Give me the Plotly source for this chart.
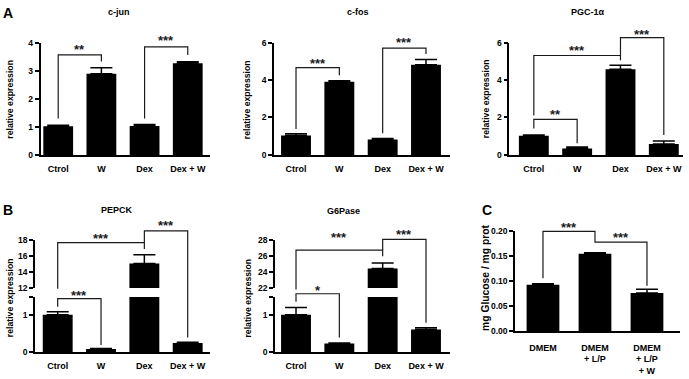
import plotly.graph_objects as go

# ---------------- data ----------------
cat_A = ["Ctrol", "W", "Dex", "Dex + W"]
cjun_mean = [1.02, 2.89, 1.03, 3.26]
cjun_sem = [0.04, 0.21, 0.05, 0.06]
cfos_mean = [1.04, 3.91, 0.83, 4.81]
cfos_sem = [0.09, 0.05, 0.05, 0.28]
pgc_mean = [1.03, 0.35, 4.57, 0.59]
pgc_sem = [0.03, 0.07, 0.22, 0.16]

cat_B = ["Ctrol", "W", "Dex", "Dex + W"]
pepck_mean = [1.02, 0.09, 15.1, 0.25]
pepck_sem = [0.08, 0.01, 1.1, 0.02]
g6p_mean = [1.02, 0.24, 24.45, 0.62]
g6p_sem = [0.20, 0.01, 0.70, 0.05]

cat_C = ["DMEM", "DMEM<br>+ L/P", "DMEM<br>+ L/P<br>+ W"]
glc_mean = [0.093, 0.155, 0.0765]
glc_sem = [0.002, 0.002, 0.0072]

# significance brackets: (group a, group b, bracket level, end a, end b, label, label level)
cjun_sig = [(0, 1, 3.56, 1.30, 3.33, "**", 3.86), (2, 3, 3.85, 1.30, 3.56, "***", 4.17)]
cfos_sig = [(0, 1, 4.66, 1.39, 4.26, "***", 5.04), (2, 3, 5.70, 1.16, 5.39, "***", 6.17)]
pgc_sig = [(0, 1, 1.90, 1.41, 0.63, "**", 2.31), (0, 2, 5.31, 2.10, 5.05, "***", 5.75),
           (2, 3, 6.27, 5.31, 1.06, "***", 6.58)]
pepck_sig = [(0, 2, 17.7, 11.9, 16.9, "***", 18.6), (0, 1, 1.46, 1.24, 0.20, "***", 1.61),
             (2, 3, 19.2, 17.7, 0.40, "***", 20.25)]
g6p_sig = [(0, 2, 26.77, 21.8, 26.0, "***", 28.7), (0, 1, 1.59, 1.37, 0.40, "*", 1.77),
           (2, 3, 28.12, 26.77, 0.80, "***", 29.1)]
glc_sig = [(0, 1, 0.1995, 0.1057, 0.188, "***", 0.214), (1, 2, 0.178, 0.188, 0.0909, "***", 0.193)]

# ---------------- layout geometry (pixels) ----------------
W, H = 689, 379
FONT = "Liberation Sans, Arial, Helvetica, sans-serif"


def px_x(p):
    return p / W


def px_y(p):
    return 1 - p / H


# each panel: x axis id, list of y segments (axis id, top px, bottom px, range, tickvals, ticktext)
panels = [
    dict(name="cjun", x=1, xdom=(40.5, 210), xr=(-0.41, 3.515), cats=cat_A, mean=cjun_mean, sem=cjun_sem,
         sig=cjun_sig, bw=0.69, so=5,
         segs=[dict(y=1, top=38.6, bot=154, r=(0, 4), tv=[0, 1, 2, 3, 4], tt=None)]),
    dict(name="cfos", x=2, xdom=(274, 450), xr=(-0.508, 3.554), cats=cat_A, mean=cfos_mean, sem=cfos_sem,
         sig=cfos_sig, bw=0.69, so=5,
         segs=[dict(y=2, top=38.6, bot=154, r=(0, 6), tv=[0, 2, 4, 6], tt=None)]),
    dict(name="pgc", x=3, xdom=(509.3, 682.7), xr=(-0.566, 3.436), cats=cat_A, mean=pgc_mean, sem=pgc_sem,
         sig=pgc_sig, bw=0.69, so=5,
         segs=[dict(y=3, top=38.6, bot=154, r=(0, 6), tv=[0, 2, 4, 6], tt=None)]),
    dict(name="pepck", x=4, xdom=(35, 210), xr=(-0.524, 3.515), cats=cat_B, mean=pepck_mean, sem=pepck_sem,
         sig=pepck_sig, bw=0.69, so=4,
         segs=[dict(y=4, top=300, bot=356.7, r=(0, 1.5), tv=[0, 1, 1.5], tt=["0", "1", ""]),
               dict(y=5, top=241.7, bot=290.7, r=(12, 18), tv=[12, 14, 16, 18], tt=None)]),
    dict(name="g6p", x=5, xdom=(275, 450), xr=(-0.485, 3.554), cats=cat_B, mean=g6p_mean, sem=g6p_sem,
         sig=g6p_sig, bw=0.69, so=4,
         segs=[dict(y=6, top=300, bot=356.7, r=(0, 1.5), tv=[0, 1, 1.5], tt=["0", "1", ""]),
               dict(y=7, top=241.7, bot=290.7, r=(22, 28), tv=[22, 24, 26, 28], tt=None)]),
    dict(name="glc", x=6, xdom=(515, 680), xr=(-0.538, 2.635), cats=cat_C, mean=glc_mean, sem=glc_sem,
         sig=glc_sig, bw=0.63, so=7,
         segs=[dict(y=8, top=232.3, bot=335, r=(0, 0.2), tv=[0, 0.05, 0.1, 0.15, 0.2],
                    tt=["0.00", "0.05", "0.10", "0.15", "0.20"])]),
]


def axname(letter, n):
    return f"{letter}axis" if n == 1 else f"{letter}axis{n}"


def tr(letter, n):
    return letter if n == 1 else f"{letter}{n}"


def seg_for(panel, v):
    segs = panel["segs"]
    if len(segs) == 1:
        return segs[0]
    return segs[1] if v > 6 else segs[0]


def val_py(panel, v):
    s = seg_for(panel, v)
    r0, r1 = s["r"]
    return s["bot"] - (v - r0) / (r1 - r0) * (s["bot"] - s["top"])


fig = go.Figure()
layout = dict(width=W, height=H, margin=dict(l=0, r=0, t=0, b=0), paper_bgcolor="white",
              plot_bgcolor="white", showlegend=False, font=dict(family=FONT, color="black"))
shapes = []
annotations = []

for p in panels:
    xn = p["x"]
    n = len(p["cats"])
    layout[axname("x", xn)] = dict(
        domain=[px_x(p["xdom"][0]), px_x(p["xdom"][1])], range=list(p["xr"]),
        anchor=tr("y", p["segs"][0]["y"]), showline=True, linecolor="black", linewidth=1.5,
        ticks="", tickvals=list(range(n)), ticktext=p["cats"], showgrid=False, zeroline=False,
        tickfont=dict(family=FONT, size=9, color="black", weight="bold"), fixedrange=True,
        ticklabelstandoff=p["so"])
    for s in p["segs"]:
        yd = dict(domain=[px_y(s["bot"]), px_y(s["top"])], range=list(s["r"]), anchor=tr("x", xn),
                  showline=True, linecolor="black", linewidth=1.5, ticks="outside", ticklen=4, tickwidth=1.5,
                  tickcolor="black", tickvals=s["tv"], showgrid=False, zeroline=False, fixedrange=True,
                  tickfont=dict(family=FONT, size=8.5, color="black", weight="bold"))
        if s["tt"] is not None:
            yd["ticktext"] = s["tt"]
        layout[axname("y", s["y"])] = yd
        fig.add_trace(go.Bar(
            x=list(range(n)), y=p["mean"], xaxis=tr("x", xn), yaxis=tr("y", s["y"]),
            width=p["bw"], marker=dict(color="black", line=dict(width=0)),
            error_y=dict(type="data", array=p["sem"], arrayminus=[0] * n, symmetric=False,
                         color="black", thickness=1.5, width=11),
            hoverinfo="skip"))
    # significance brackets
    for (a, b, lvl, ea, eb, lab, ly) in p["sig"]:
        ya = px_y(val_py(p, ea))
        yl = px_y(val_py(p, lvl))
        yb = px_y(val_py(p, eb))
        shapes.append(dict(type="path", xref=tr("x", xn), yref="paper",
                           path=f"M {a},{ya} L {a},{yl} L {b},{yl} L {b},{yb}",
                           line=dict(color="#1a1a1a", width=1.2)))
        annotations.append(dict(x=(a + b) / 2, xref=tr("x", xn), y=px_y(val_py(p, ly) + 3), yref="paper",
                                text=lab, showarrow=False, xanchor="center", yanchor="middle",
                                font=dict(family=FONT, size=13, color="#1a1a1a", weight="bold")))


def text_px(x, y, text, size, angle=0, weight="bold"):
    annotations.append(dict(x=px_x(x), y=px_y(y), xref="paper", yref="paper", text=text, showarrow=False,
                            xanchor="center", yanchor="middle", textangle=angle,
                            font=dict(family=FONT, size=size, color="black", weight=weight)))


# panel letters
text_px(8.3, 8.5, "A", 14)
text_px(7.8, 210.5, "B", 14)
text_px(487.5, 210.7, "C", 14)
# titles
text_px(119, 7.5, "c-jun", 9)
text_px(357.7, 7.5, "c-fos", 9)
text_px(588, 7.5, "PGC-1α", 9)
text_px(117, 211, "PEPCK", 9)
text_px(343, 212, "G6Pase", 9)
# y axis titles
text_px(10.3, 97, "relative expression", 8.7, -90)
text_px(247.7, 97, "relative expression", 8.7, -90)
text_px(486.7, 96, "relative expression", 8.7, -90)
text_px(10.3, 300.8, "relative expression", 8.7, -90)
text_px(247.7, 300.8, "relative expression", 8.7, -90)
text_px(485.3, 280, "mg Glucose / mg prot", 10.3, -90)

layout["shapes"] = shapes
layout["annotations"] = annotations
fig.update_layout(**layout)
fig.write_html("out.html", config={"displayModeBar": False},
               post_script="document.body.style.margin='0';document.body.style.overflow='hidden';")
